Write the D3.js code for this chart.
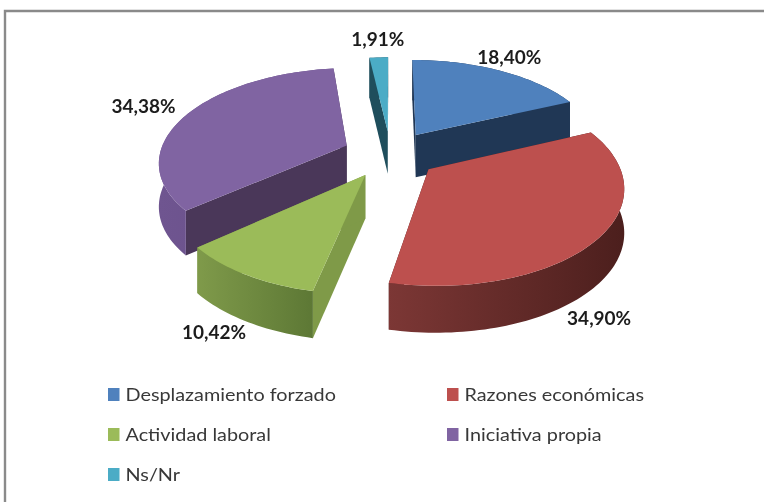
<!DOCTYPE html>
<html>
<head>
<meta charset="utf-8">
<script src="https://cdn.jsdelivr.net/npm/d3@7"></script>
<style>
   html, body { margin: 0; padding: 0; background: #fff; }
   svg { display: block; }
   .pct { font-family: Lato, sans-serif; font-weight: 700; font-size: 19px; fill: #1c1c1c; text-anchor: middle; filter: blur(0.35px); }
   .legend { font-family: Lato, sans-serif; font-size: 17.5px; fill: #383838; filter: blur(0.35px); }
</style>
</head>
<body>
<div id="chart"></div>
<script>
const width = 764;
const height = 502;

// data
const categories = ["Desplazamiento forzado", "Razones económicas", "Actividad laboral", "Iniciativa propia", "Ns/Nr"];
const values = [18.40, 34.90, 10.42, 34.38, 1.91];

// colours: top face, cut wall, outer wall left and right
const topColors  = ["#4f81bd", "#bd504e", "#9bbb59", "#8064a2", "#4bacc6"];
const wallColors = ["#203755", "#4d2020", "#7f9a48", "#4a3759", "#1f4e5c"];
const rimLeft    = ["#203755", "#7c3735", "#7f9a4a", "#6f5590", "#1f4e5c"];
const rimRight   = ["#203755", "#4c1f1d", "#5d7835", "#644c86", "#1f4e5c"];

// label nudge from the rim point at the middle of each slice
const labelShift = [[9, -13], [0, 81], [-32, 58], [-43, -8], [-1, -18]];

const center = {x: 390.5, y: 154};
const radius = 187;
const tilt = 92.5;
const perspective = 0.16;
const explode = 0.255;

const pctFormat = d => d3.format(".2f")(d).replace(".", ",") + "%";

// disk coordinates to the screen, u grows towards the viewer
function project(x, u, drop) {
   const s = 1 / (1 - perspective * u);
   const h = drop ? 26 + 17 * s : 0;
   return [center.x + radius * x * s, center.y + tilt * u * s + h];
}

const svg = d3.select("#chart").append("svg")
   .attr("width", width)
   .attr("height", height);

const defs = svg.append("defs");

// frame, open to the right and the bottom
svg.append("path")
   .attr("d", "M5,502V11H764")
   .attr("fill", "none")
   .attr("stroke", "#8a8a8a")
   .attr("stroke-width", 2.4);

const pie = d3.pie().sort(null)(values);

const slices = pie.map((d, i) => {
   const mid = (d.startAngle + d.endAngle) / 2;
   const ox = explode * Math.sin(mid);
   const ou = -explode * Math.cos(mid);
   const steps = d3.range(0, 1.0001, 1 / Math.ceil((d.endAngle - d.startAngle) * 40));
   const rim = steps.map(t => {
      const a = d.startAngle + t * (d.endAngle - d.startAngle);
      return [ox + Math.sin(a), ou - Math.cos(a)];
   });
   return {i, mid, ox, ou, rim, apex: [ox, ou]};
});

const line = d3.line();
const order = [4, 3, 0, 2, 1];

order.forEach(k => {
   const s = slices[k];
   const g = svg.append("g");
   const up = p => project(p[0], p[1], false);
   const down = p => project(p[0], p[1], true);
   const first = s.rim[0];
   const last = s.rim[s.rim.length - 1];

   // cut walls
   [first, last].forEach(p => {
      g.append("path")
         .attr("d", line([up(p), up(s.apex), down(s.apex), down(p)]) + "Z")
         .attr("fill", wallColors[k]);
   });

   // outer wall
   const gradId = "rim" + k;
   const grad = defs.append("linearGradient")
      .attr("id", gradId)
      .attr("gradientUnits", "userSpaceOnUse")
      .attr("x1", d3.min(s.rim, p => up(p)[0])).attr("x2", d3.max(s.rim, p => up(p)[0]))
      .attr("y1", 0).attr("y2", 0);
   grad.append("stop").attr("offset", 0).attr("stop-color", rimLeft[k]);
   grad.append("stop").attr("offset", 1).attr("stop-color", rimRight[k]);
   g.append("path")
      .attr("d", line(s.rim.map(up).concat(s.rim.slice().reverse().map(down))) + "Z")
      .attr("fill", "url(#" + gradId + ")");

   // top face
   g.append("path")
      .attr("d", line([up(s.apex)].concat(s.rim.map(up))) + "Z")
      .attr("fill", topColors[k]);
});

// value labels
slices.forEach(s => {
   const p = project(s.ox + Math.sin(s.mid), s.ou - Math.cos(s.mid), false);
   svg.append("text")
      .attr("class", "pct")
      .attr("x", p[0] + labelShift[s.i][0])
      .attr("y", p[1] + labelShift[s.i][1])
      .attr("dy", "0.35em")
      .text(pctFormat(values[s.i]));
});

// legend, filled row by row in two columns
const legendX = d3.scalePoint().domain([0, 1]).range([108, 447]);
const legendY = d3.scalePoint().domain([0, 1, 2]).range([394.5, 474.5]);

categories.forEach((c, i) => {
   const col = i % 2;
   const row = Math.floor(i / 2);
   svg.append("rect")
      .attr("x", legendX(col))
      .attr("y", legendY(row) - 6.5)
      .attr("width", 11.5)
      .attr("height", 13)
      .attr("fill", topColors[i]);
   // the reference text is stretched sideways
   svg.append("text")
      .attr("class", "legend")
      .attr("transform", "translate(" + (legendX(col) + 17.5) + "," + legendY(row) + ") scale(1.133,1)")
      .attr("dy", "0.35em")
      .text(c);
});
</script>
</body>
</html>
